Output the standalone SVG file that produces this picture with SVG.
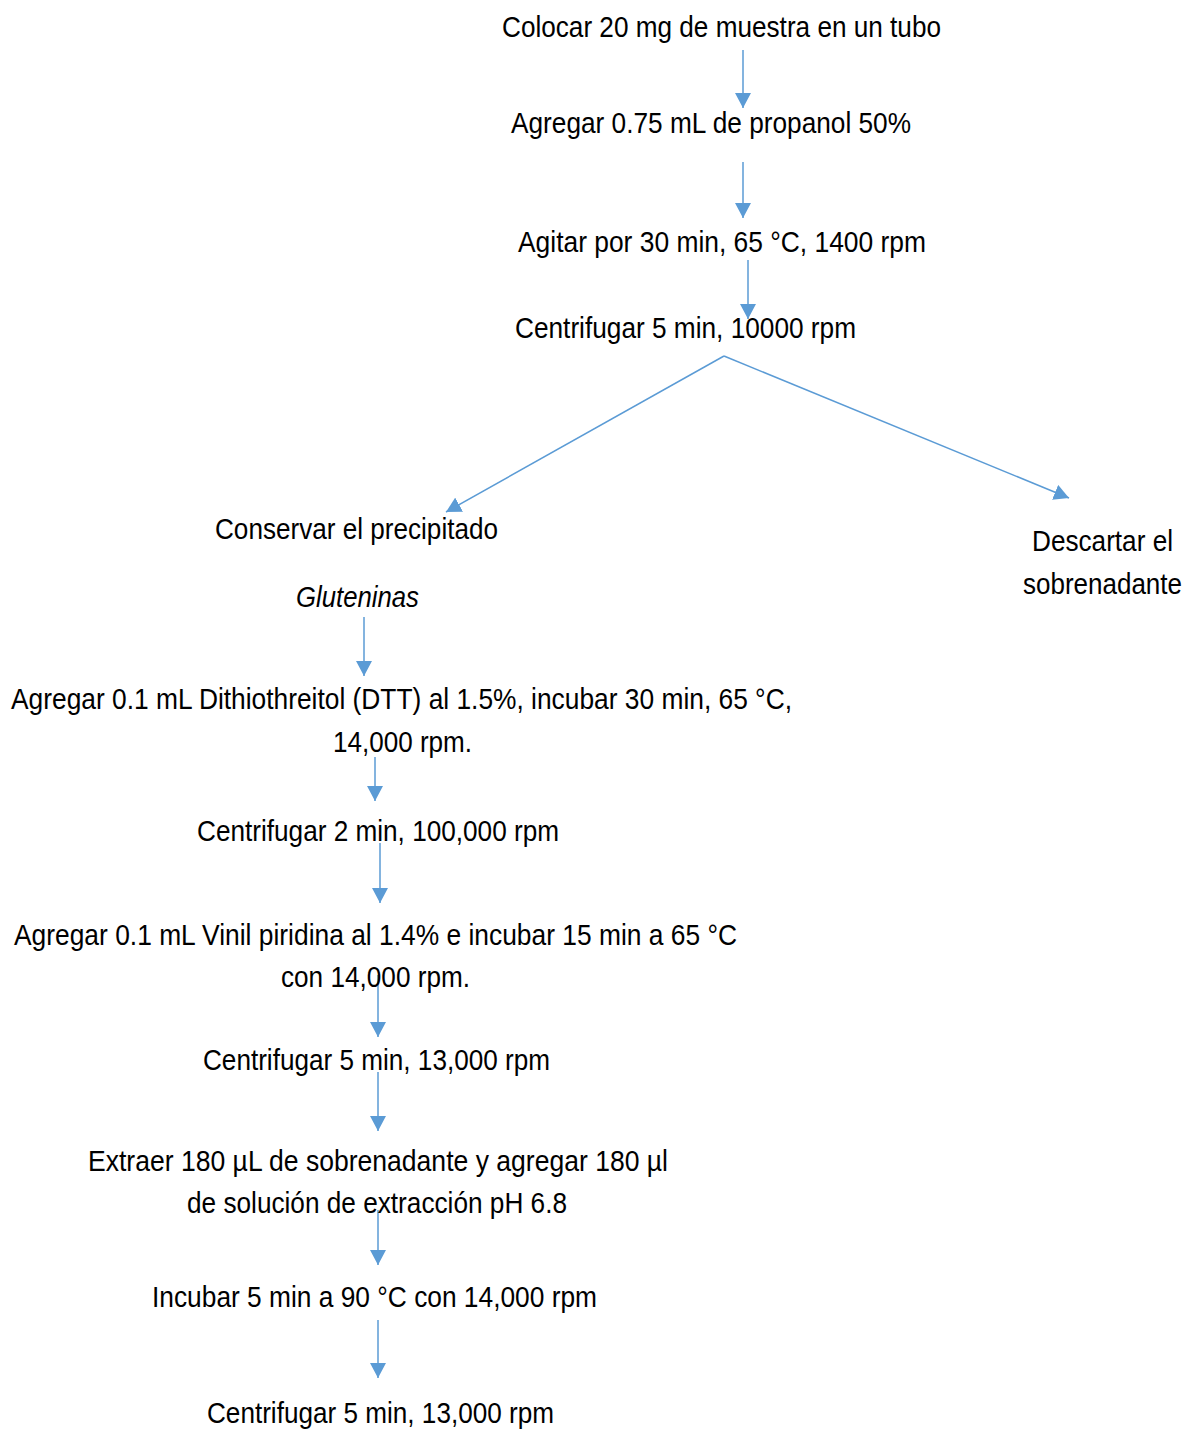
<svg xmlns="http://www.w3.org/2000/svg" width="1189" height="1431" viewBox="0 0 1189 1431">
<style>
text{font-family:"Liberation Sans Narrow","Arial Narrow","Liberation Sans",Arial,sans-serif;font-size:29px;fill:#000}
.it{font-style:italic}
.c line{stroke:#5B9BD5;stroke-width:1.5;fill:none}
</style>
<defs>
<marker id="ah" markerUnits="userSpaceOnUse" markerWidth="16" markerHeight="16" refX="15" refY="8" orient="auto" viewBox="0 0 16 16">
<path d="M0,0 L15,8 L0,16 Z" fill="#5B9BD5"/>
</marker>
</defs>
<rect width="1189" height="1431" fill="#fff"/>
<g class="c" id="connectors">
<line x1="743" y1="50" x2="743" y2="108" marker-end="url(#ah)"/>
<line x1="743" y1="162" x2="743" y2="218" marker-end="url(#ah)"/>
<line x1="748" y1="260" x2="748" y2="319" marker-end="url(#ah)"/>
<line x1="724" y1="356" x2="446" y2="512" marker-end="url(#ah)"/>
<line x1="724" y1="356" x2="1069" y2="498" marker-end="url(#ah)"/>
<line x1="364" y1="617" x2="364" y2="676" marker-end="url(#ah)"/>
<line x1="375" y1="757" x2="375" y2="801" marker-end="url(#ah)"/>
<line x1="380" y1="843" x2="380" y2="903" marker-end="url(#ah)"/>
<line x1="378" y1="975" x2="378" y2="1037" marker-end="url(#ah)"/>
<line x1="378" y1="1072" x2="378" y2="1131" marker-end="url(#ah)"/>
<line x1="378" y1="1210" x2="378" y2="1265" marker-end="url(#ah)"/>
<line x1="378" y1="1320" x2="378" y2="1378" marker-end="url(#ah)"/>
</g>
<g id="n1"><text x="502" y="37" textLength="439" lengthAdjust="spacingAndGlyphs">Colocar 20 mg de muestra en un tubo</text></g>
<g id="n2"><text x="511" y="133" textLength="400" lengthAdjust="spacingAndGlyphs">Agregar 0.75 mL de propanol 50%</text></g>
<g id="n3"><text x="518" y="252" textLength="408" lengthAdjust="spacingAndGlyphs">Agitar por 30 min, 65 °C, 1400 rpm</text></g>
<g id="n4"><text x="515" y="338" textLength="341" lengthAdjust="spacingAndGlyphs">Centrifugar 5 min, 10000 rpm</text></g>
<g id="n5"><text x="1032" y="551" textLength="141" lengthAdjust="spacingAndGlyphs">Descartar el</text><text x="1023" y="594" textLength="159" lengthAdjust="spacingAndGlyphs">sobrenadante</text></g>
<g id="n6"><text x="215" y="539" textLength="283" lengthAdjust="spacingAndGlyphs">Conservar el precipitado</text></g>
<g id="n7"><text class="it" x="296" y="607" textLength="123" lengthAdjust="spacingAndGlyphs">Gluteninas</text></g>
<g id="n8"><text x="11" y="709" textLength="781" lengthAdjust="spacingAndGlyphs">Agregar 0.1 mL Dithiothreitol (DTT) al 1.5%, incubar 30 min, 65 °C,</text><text x="333" y="752" textLength="139" lengthAdjust="spacingAndGlyphs">14,000 rpm.</text></g>
<g id="n9"><text x="197" y="841" textLength="362" lengthAdjust="spacingAndGlyphs">Centrifugar 2 min, 100,000 rpm</text></g>
<g id="n10"><text x="14" y="945" textLength="723" lengthAdjust="spacingAndGlyphs">Agregar 0.1 mL Vinil piridina al 1.4% e incubar 15 min a 65 °C</text><text x="281" y="987" textLength="189" lengthAdjust="spacingAndGlyphs">con 14,000 rpm.</text></g>
<g id="n11"><text x="203" y="1070" textLength="347" lengthAdjust="spacingAndGlyphs">Centrifugar 5 min, 13,000 rpm</text></g>
<g id="n12"><text x="88" y="1171" textLength="580" lengthAdjust="spacingAndGlyphs">Extraer 180 µL de sobrenadante y agregar 180 µl</text><text x="187" y="1213" textLength="380" lengthAdjust="spacingAndGlyphs">de solución de extracción pH 6.8</text></g>
<g id="n13"><text x="152" y="1307" textLength="445" lengthAdjust="spacingAndGlyphs">Incubar 5 min a 90 °C con 14,000 rpm</text></g>
<g id="n14"><text x="207" y="1423" textLength="347" lengthAdjust="spacingAndGlyphs">Centrifugar 5 min, 13,000 rpm</text></g>
</svg>
